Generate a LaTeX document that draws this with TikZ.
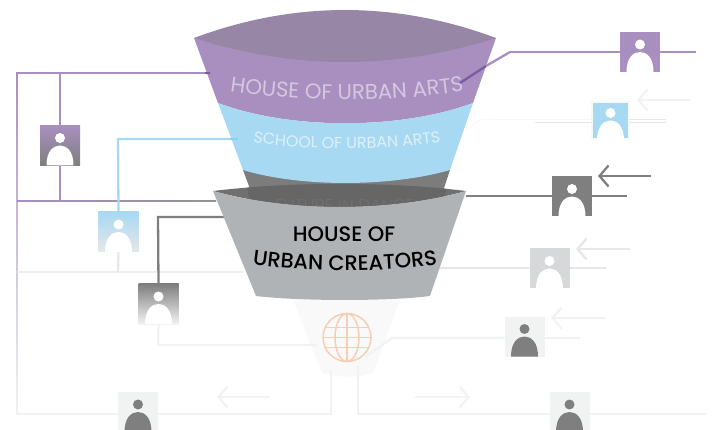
\documentclass[tikz,border=0pt]{standalone}
\usepackage{fontspec}
\usetikzlibrary{arrows.meta,decorations.text}
\newfontfamily\lightfnt{Poppins Light}
\newfontfamily\regfnt{Poppins}
\newfontfamily\medfnt{Poppins Medium}
\definecolor{purp}{HTML}{A98FBF}
\definecolor{purpdark}{HTML}{7B5AA3}
\definecolor{purptop}{HTML}{9886A6}
\definecolor{blu}{HTML}{A8D9F3}
\definecolor{bludark}{HTML}{8CCFEF}
\definecolor{gry}{HTML}{7F7F7F}
\definecolor{body}{HTML}{B0B3B5}
\definecolor{lgry}{HTML}{D6D8D9}
\definecolor{llgry}{HTML}{E6E7E8}
\definecolor{pale}{HTML}{F1F2F2}
\definecolor{globe}{HTML}{F6CDB5}
\tikzset{
  card/.style={rectangle,minimum width=40pt,minimum height=40pt,inner sep=0pt,outer sep=0pt,draw=none},
  rail/.style={line width=2.3pt},
  barb/.style={line width=2.3pt,-{Straight Barb[length=9pt,width=21pt,line width=2.3pt]}},
  pics/personicon/.style={code={
    \fill[#1] (0,-7.5) circle[radius=5];
    \fill[#1] (-13.5,20) .. controls (-13.5,6) and (-7,0) .. (0,0) .. controls (7,0) and (13.5,6) .. (13.5,20) -- cycle;
  }}
}
\begin{document}
\begin{tikzpicture}[x=1pt,y=-1pt]
\clip (0,0) rectangle (712,430);
% --- junctions
\coordinate (pL) at (17,73);
\coordinate (pR) at (210,73);
\coordinate (pT) at (60,73);
\coordinate (pB) at (60,201);
\coordinate (mL) at (17,201);
\coordinate (mR) at (216,201);
\coordinate (botL) at (17,414);
\coordinate (botC) at (331,414);
\coordinate (botU) at (331,370);
\coordinate (lL) at (17,272);
\coordinate (lR) at (244,272);
\coordinate (bE) at (238,139);
\coordinate (bC) at (118,139);
\coordinate (b272) at (118,272);
\coordinate (gE) at (224,217);
\coordinate (gC) at (158,217);
\coordinate (g1) at (158,345);
\coordinate (g2) at (317,345);
\coordinate (p1) at (460,83);
\coordinate (p2) at (486,66);
\coordinate (p3) at (510,52);
\coordinate (p4) at (696,52);
\coordinate (k1) at (466,196);
\coordinate (k2) at (627,196);
\coordinate (h1) at (438,268);
\coordinate (h2) at (606,268);
\coordinate (w1) at (365,357);
\coordinate (w2) at (392,338);
\coordinate (w3) at (580,338);
\coordinate (r1) at (358,366);
\coordinate (r2) at (358,414);
\coordinate (r3) at (706,414);
% --- pale funnel
\fill[color={rgb,255:red,249;green,249;blue,249}] (293,300) -- (322,373) .. controls (335,378) and (360,378) .. (373,373) -- (400,300) -- cycle;
% --- cards
\node[card,shade,top color=purp,bottom color=gry] (cardA) at (60,145.5) {};
\node[card,shade,top color=blu,bottom color=llgry] (cardB) at (118.5,232) {};
\node[card,shade,top color=gry,bottom color=pale] (cardC) at (158.5,304) {};
\node[card,fill=pale] (cardD) at (138,412) {};
\node[card,fill=purp] (cardE) at (640,52) {};
\node[card,minimum width=37pt,minimum height=37pt,fill=blu,draw=pale!60,line width=2pt] (cardF) at (610.5,120.5) {};
\node[card,fill=gry] (cardG) at (572,196.5) {};
\node[card,fill=lgry] (cardH) at (549.5,268.5) {};
\node[card,fill=pale] (cardI) at (524.5,336.5) {};
\node[card,fill=pale] (cardJ) at (569.5,412) {};
% --- left connectors
\shade[top color=purp,middle color=purp!75!pale,bottom color=pale] ([xshift=-0.9pt]pL) rectangle ([xshift=0.9pt]botL);
\draw[rail,purp] (pL) -- (pR);
\draw[rail,purp] (pT) -- (cardA.north);
\draw[rail,purp] (cardA.south) -- (pB);
\shade[left color=purp,right color=gry!85] ([yshift=-0.8pt]mL) rectangle ([yshift=0.8pt]mR);
\draw[rail,llgry!70] (lL) -- (lR);
\draw[rail,pale] (botL) -- (cardD.west |- botL);
\draw[rail,pale] (cardD.east |- botL) -- (botC) -- (botU);
\draw[rail,blu] (bE) -- (bC) -- (cardB.north);
\draw[rail,llgry] (cardB.south) -- (b272);
\draw[rail,gry] (gE) -- (gC) -- (cardC.north);
\draw[rail,pale] (cardC.south) -- (g1) -- (g2);
% --- right connectors
\draw[rail,purp] (p3) -- (cardE.west);
\draw[rail,purp] (cardE.east) -- (p4);
\draw[rail,gry] (k1) -- (cardG.west |- k1);
\draw[rail,gry] (cardG.east |- k1) -- (k2);
\draw[rail,llgry] (h1) -- (cardH.west |- h1);
\draw[rail,llgry] (cardH.east |- h1) -- (h2);
\draw[rail,pale] (w1) -- (w2) -- (cardI.west |- w2);
\draw[rail,pale] (cardI.east |- w2) -- (w3);
\draw[rail,pale] (r1) -- (r2) -- (cardJ.west |- r2);
\draw[rail,pale] (cardJ.east |- r3) -- (r3);
\coordinate (f1) at (535,122); \coordinate (f2) at (666,122);
\coordinate (f3) at (500,119.5); \coordinate (f4) at (666,119.5);
\coordinate (f5) at (463,132); \coordinate (f6) at (480,120);
\draw[line width=.7pt,llgry] (f1) -- (cardF.west |- f1);
\draw[line width=.7pt,llgry] (cardF.east |- f1) -- (f2);
\draw[line width=.5pt,pale] (f5) -- (f6) -- (f3) -- (cardF.west |- f3);
\draw[line width=.5pt,llgry] (cardF.east |- f3) -- (f4);
% --- arrows
\coordinate (a1) at (690,100); \coordinate (a1t) at (637,100);
\coordinate (a2) at (651,176); \coordinate (a2t) at (598,176);
\coordinate (a3) at (630,249); \coordinate (a3t) at (576,249);
\coordinate (a4) at (605,318); \coordinate (a4t) at (551,318);
\coordinate (a5) at (270,397); \coordinate (a5t) at (217,397);
\coordinate (a6) at (415,397); \coordinate (a6t) at (470,397);
\draw[barb,pale] (a1) -- (a1t);
\draw[barb,gry] (a2) -- (a2t);
\draw[barb,llgry] (a3) -- (a3t);
\draw[barb,pale] (a4) -- (a4t);
\draw[barb,pale] (a5) -- (a5t);
\draw[barb,pale] (a6) -- (a6t);
% --- person icons
\pic at (cardA.center) {personicon=white};
\pic at (cardB.center) {personicon=white};
\pic at (cardC.center) {personicon=white};
\pic at (cardD.center) {personicon=gry};
\pic at (cardE.center) {personicon=white};
\pic at (cardF.center) {personicon=white};
\pic at (cardG.center) {personicon=white};
\pic at (cardH.center) {personicon=white};
\pic at (cardI.center) {personicon=gry};
\pic at (cardJ.center) {personicon=gry};
% --- globe
\begin{scope}[globe,line width=1.5pt]
\draw (347,337.5) circle[radius=24];
\draw (347,337.5) ellipse[x radius=12,y radius=24];
\draw (347,313.5) -- (347,361.5);
\draw (323,337.5) -- (371,337.5);
\draw (325,327.5) -- (369,327.5);
\draw (325,347.5) -- (369,347.5);
\end{scope}
% --- upper funnel
\fill[gry!98!black] (243,170) -- (253,197) -- (441,197) -- (450,170) -- cycle;
\fill[purp] (194,38) -- (218,103) .. controls (290,130) and (400,130) .. (473,103) -- (496,38) -- cycle;
\fill[purptop] (194,38) .. controls (294,0.7) and (396,0.7) .. (496,38) .. controls (396,70) and (294,70) .. (194,38) -- cycle;
\fill[blu] (218,103) -- (243,170) .. controls (300,187.3) and (390,187.3) .. (450,170) -- (473,103) .. controls (400,130) and (290,130) .. (218,103) -- cycle;
% --- lower funnel
\fill[color={rgb,255:red,112;green,112;blue,112}] (213,191) .. controls (290,181.7) and (390,181.7) .. (466,191) .. controls (390,212.3) and (290,212.3) .. (213,191) -- cycle;
\begin{scope}
\clip (243,170) -- (253,215) -- (441,215) -- (450,170) -- cycle;
\fill[color={rgb,255:red,102;green,102;blue,102}] (213,191) .. controls (290,181.7) and (390,181.7) .. (466,191) .. controls (390,212.3) and (290,212.3) .. (213,191) -- cycle;
\end{scope}
\node[inner sep=0pt,color={rgb,255:red,112;green,112;blue,112}] (txtF) at (345,206) {\lightfnt\fontsize{17}{17}\selectfont FUTURE IN DANCE};
\fill[body] (213,191) .. controls (290,212.3) and (390,212.3) .. (466,191) -- (430,296) .. controls (390,301.3) and (300,301.3) .. (256,296) -- cycle;
% --- ends of lines inside the funnels
\draw[rail,purpdark] (205,73) -- (pR);
\draw[rail,bludark] (230,139) -- (bE);
\draw[rail,purpdark] (p1) -- (p2);
\draw[rail,purp] (p2) -- (p3);
% --- funnel labels
\path[postaction={decorate},decoration={text along path,text align=center,text={|\regfnt\fontsize{21.3}{21.3}\selectfont\color{purp!50!white}|HOUSE OF URBAN ARTS}}] (222,90) .. controls (300,103) and (390,103) .. (472,90);
\path[postaction={decorate},decoration={text along path,text align=center,text={|\regfnt\fontsize{15.9}{15.9}\selectfont\color{blu!40!white}|SCHOOL OF URBAN ARTS}}] (245,141) .. controls (300,151) and (390,151) .. (449,141);
\node[inner sep=0pt,anchor=base,black] (txtH) at (344,242) {\medfnt\fontsize{21}{21}\selectfont HOUSE OF};
\path[postaction={decorate},decoration={text along path,text align=center,text={|\medfnt\fontsize{21}{21}\selectfont\color{black}|URBAN CREATORS}}] (245,263) .. controls (300,273) and (390,273) .. (445,263);
\end{tikzpicture}
\end{document}
